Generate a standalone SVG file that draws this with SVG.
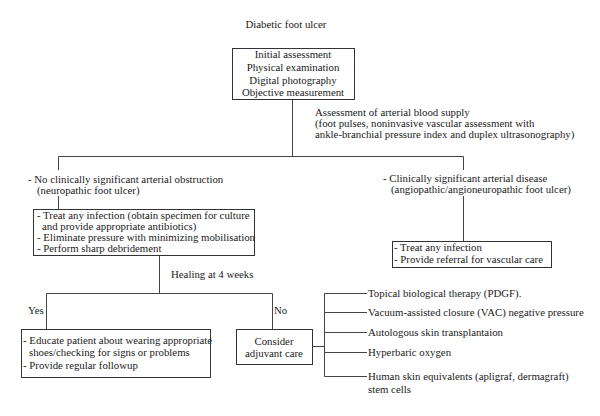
<svg xmlns="http://www.w3.org/2000/svg" width="600" height="416" viewBox="0 0 600 416">
<style>
text{font-family:"Liberation Serif","Times New Roman",serif;font-size:10.8px;fill:#1a1a1a}
.c{text-anchor:middle}
.box{fill:#fff;stroke:#333;stroke-width:1}
.ln{fill:none;stroke:#444;stroke-width:1}
</style>
<rect width="600" height="416" fill="#fff"/>
<g id="connectors">
<path class="ln" d="M292.5 99V156.5M58.5 156.5H463.5M58.5 156.5V170M58.5 196V209M463.5 156.5V170M463.5 196V241"/>
<path class="ln" d="M159.5 255V293.5M46.5 293.5H272.5M46.5 293.5V329M272.5 293.5V329"/>
<path class="ln" d="M312 346.5H324.5M324.5 293.5V376.5M324.5 293.5H367M324.5 312.5H367M324.5 332.5H367M324.5 352.5H367M324.5 376.5H367"/>
</g>
<g id="title"><text class="c" x="286" y="28">Diabetic foot ulcer</text></g>
<g id="initial">
<rect class="box" x="232.5" y="48.5" width="122" height="51"/>
<text class="c" x="293" y="58">Initial assessment</text>
<text class="c" x="293" y="71">Physical examination</text>
<text class="c" x="293" y="84">Digital photography</text>
<text class="c" x="293" y="96">Objective measurement</text>
</g>
<g id="assessment-label">
<text x="315" y="116">Assessment of arterial blood supply</text>
<text x="315" y="127">(foot pulses, noninvasive vascular assessment with</text>
<text x="315" y="138">ankle-branchial pressure index and duplex ultrasonography)</text>
</g>
<g id="neuropathic">
<text x="28" y="183">- No clinically significant arterial obstruction</text>
<text x="37" y="194">(neuropathic foot ulcer)</text>
</g>
<g id="angiopathic">
<text x="383" y="182">- Clinically significant arterial disease</text>
<text x="391" y="193">(angiopathic/angioneuropathic foot ulcer)</text>
</g>
<g id="treat-neuro">
<rect class="box" x="33.5" y="209.5" width="221" height="46"/>
<text x="37" y="219">- Treat any infection (obtain specimen for culture</text>
<text x="42" y="230">and provide appropriate antibiotics)</text>
<text x="37" y="241">- Eliminate pressure with minimizing mobilisation</text>
<text x="37" y="252">- Perform sharp debridement</text>
</g>
<g id="treat-angio">
<rect class="box" x="392.5" y="241.5" width="159" height="26"/>
<text x="394" y="251">- Treat any infection</text>
<text x="394" y="263">- Provide referral for vascular care</text>
</g>
<g id="healing-label"><text x="171" y="278">Healing at 4 weeks</text></g>
<g id="yes-label"><text x="28" y="314">Yes</text></g>
<g id="no-label"><text x="274" y="314">No</text></g>
<g id="educate">
<rect class="box" x="21.5" y="329.5" width="189" height="48"/>
<text x="23" y="344">- Educate patient about wearing appropriate</text>
<text x="29" y="356">shoes/checking for signs or problems</text>
<text x="23" y="369">- Provide regular followup</text>
</g>
<g id="adjuvant">
<rect class="box" x="236.5" y="329.5" width="76" height="35"/>
<text class="c" x="274" y="345">Consider</text>
<text class="c" x="274" y="357">adjuvant care</text>
</g>
<g id="options">
<text x="368" y="297">Topical biological therapy (PDGF).</text>
<text x="368" y="316">Vacuum-assisted closure (VAC) negative pressure</text>
<text x="368" y="336">Autologous skin transplantaion</text>
<text x="368" y="356">Hyperbaric oxygen</text>
<text x="368" y="380">Human skin equivalents (apligraf, dermagraft)</text>
<text x="368" y="393">stem cells</text>
</g>
</svg>
